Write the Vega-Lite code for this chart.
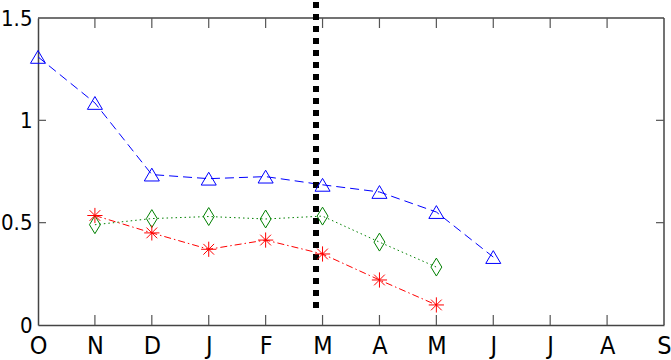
{
  "$schema": "https://vega.github.io/schema/vega-lite/v6.json",
  "width": 626,
  "height": 307,
  "autosize": {"type": "none"},
  "padding": {"left": 38, "top": 18, "right": 7, "bottom": 35},
  "background": "white",
  "config": {
    "view": {"stroke": null},
    "axis": {
      "grid": false,
      "title": null,
      "domainColor": "#444444",
      "domainWidth": 1.5,
      "labelColor": "black",
      "labelFlush": false,
      "labelFont": "Liberation Sans Narrow, DejaVu Sans Condensed, Arial Narrow, sans-serif"
    }
  },
  "datasets": {
    "series": [
      {"m": 0, "v": 1.31, "s": "blue"},
      {"m": 1, "v": 1.085, "s": "blue"},
      {"m": 2, "v": 0.735, "s": "blue"},
      {"m": 3, "v": 0.715, "s": "blue"},
      {"m": 4, "v": 0.725, "s": "blue"},
      {"m": 5, "v": 0.685, "s": "blue"},
      {"m": 6, "v": 0.65, "s": "blue"},
      {"m": 7, "v": 0.552, "s": "blue"},
      {"m": 8, "v": 0.332, "s": "blue"},
      {"m": 1, "v": 0.49, "s": "green"},
      {"m": 2, "v": 0.52, "s": "green"},
      {"m": 3, "v": 0.53, "s": "green"},
      {"m": 4, "v": 0.518, "s": "green"},
      {"m": 5, "v": 0.532, "s": "green"},
      {"m": 6, "v": 0.405, "s": "green"},
      {"m": 7, "v": 0.283, "s": "green"},
      {"m": 1, "v": 0.535, "s": "red"},
      {"m": 2, "v": 0.45, "s": "red"},
      {"m": 3, "v": 0.37, "s": "red"},
      {"m": 4, "v": 0.415, "s": "red"},
      {"m": 5, "v": 0.347, "s": "red"},
      {"m": 6, "v": 0.22, "s": "red"},
      {"m": 7, "v": 0.098, "s": "red"}
    ],
    "marker": [
      {"x": 4.885, "y": 0.083, "y2": 1.6}
    ],
    "topedge": [{"v": 1.5}],
    "rightedge": [{"m": 11}],
    "xticks": [
      {"m": 1}, {"m": 2}, {"m": 3}, {"m": 4}, {"m": 5}, {"m": 6}, {"m": 7}, {"m": 8}, {"m": 9}, {"m": 10}
    ],
    "yticks": [
      {"v": 0.5}, {"v": 1}
    ]
  },
  "layer": [
    {
      "mark": {"type": "rule", "color": "black", "strokeWidth": 1.3},
      "encoding": {
        "y": {"datum": 1, "type": "quantitative", "scale": {"domain": [0, 1.5], "nice": false, "zero": false}, "axis": {"orient": "left", "values": [0, 0.5, 1, 1.5], "format": "~g", "ticks": false, "labelPadding": 6, "labelFontSize": 22}},
        "x": {"datum": 0, "type": "quantitative", "scale": {"domain": [0, 11], "nice": false, "zero": false}, "axis": {"orient": "bottom", "values": [0,1,2,3,4,5,6,7,8,9,10,11], "labelExpr": "substring('ONDJFMAMJJAS', datum.value, datum.value + 1)", "ticks": false, "labelPadding": 8, "labelFontSize": 25}},
        "x2": {"datum": 11}
      }
    },
    {
      "data": {"name": "topedge"},
      "mark": {"type": "rule", "color": "#444444", "strokeWidth": 1.5},
      "encoding": {
        "y": {"field": "v", "type": "quantitative"}
      }
    },
    {
      "data": {"name": "rightedge"},
      "mark": {"type": "rule", "color": "#444444", "strokeWidth": 1.5},
      "encoding": {
        "x": {"field": "m", "type": "quantitative"}
      }
    },
    {
      "data": {"name": "xticks"},
      "mark": {"type": "tick", "orient": "vertical", "color": "#555555", "size": 10, "thickness": 1.2, "yOffset": -5, "opacity": 1},
      "encoding": {
        "x": {"field": "m", "type": "quantitative"},
        "y": {"datum": 0, "type": "quantitative"}
      }
    },
    {
      "data": {"name": "xticks"},
      "mark": {"type": "tick", "orient": "vertical", "color": "#555555", "size": 10, "thickness": 1.2, "yOffset": 5, "opacity": 1},
      "encoding": {
        "x": {"field": "m", "type": "quantitative"},
        "y": {"datum": 1.5, "type": "quantitative"}
      }
    },
    {
      "data": {"name": "yticks"},
      "mark": {"type": "tick", "orient": "horizontal", "color": "#555555", "size": 8, "thickness": 1.2, "xOffset": 4, "opacity": 1},
      "encoding": {
        "y": {"field": "v", "type": "quantitative"},
        "x": {"datum": 0, "type": "quantitative"}
      }
    },
    {
      "data": {"name": "yticks"},
      "mark": {"type": "tick", "orient": "horizontal", "color": "#555555", "size": 8, "thickness": 1.2, "xOffset": -4, "opacity": 1},
      "encoding": {
        "y": {"field": "v", "type": "quantitative"},
        "x": {"datum": 11, "type": "quantitative"}
      }
    },
    {
      "data": {"name": "series"},
      "mark": {"type": "line", "strokeWidth": 1},
      "encoding": {
        "x": {"field": "m", "type": "quantitative"},
        "y": {"field": "v", "type": "quantitative"},
        "color": {"field": "s", "type": "nominal", "scale": {"domain": ["blue", "green", "red"], "range": ["#0000ff", "#008000", "#ff0000"]}, "legend": null},
        "strokeDash": {"field": "s", "type": "nominal", "scale": {"domain": ["blue", "green", "red"], "range": [[9, 5], [1.5, 3], [7, 3, 1.5, 3]]}, "legend": null}
      }
    },
    {
      "data": {"name": "marker"},
      "mark": {"type": "rule", "color": "black", "strokeWidth": 6, "strokeDash": [6, 6], "clip": false},
      "encoding": {
        "x": {"field": "x", "type": "quantitative"},
        "y": {"field": "y", "type": "quantitative"},
        "y2": {"field": "y2"}
      }
    },
    {
      "data": {"name": "series"},
      "mark": {"type": "point", "filled": false, "strokeWidth": 1, "size": 256, "opacity": 1},
      "encoding": {
        "x": {"field": "m", "type": "quantitative"},
        "y": {"field": "v", "type": "quantitative"},
        "color": {"field": "s", "type": "nominal", "legend": null},
        "shape": {"field": "s", "type": "nominal", "scale": {"domain": ["blue", "green", "red"], "range": ["M0,-0.8L0.94,0.8L-0.94,0.8Z", "M0,-1.12L0.68,0L0,1.12L-0.68,0Z", "M0,-0.95L0,0.95M-0.95,0L0.95,0M-0.67,-0.67L0.67,0.67M-0.67,0.67L0.67,-0.67"]}, "legend": null}
      }
    }
  ]
}
